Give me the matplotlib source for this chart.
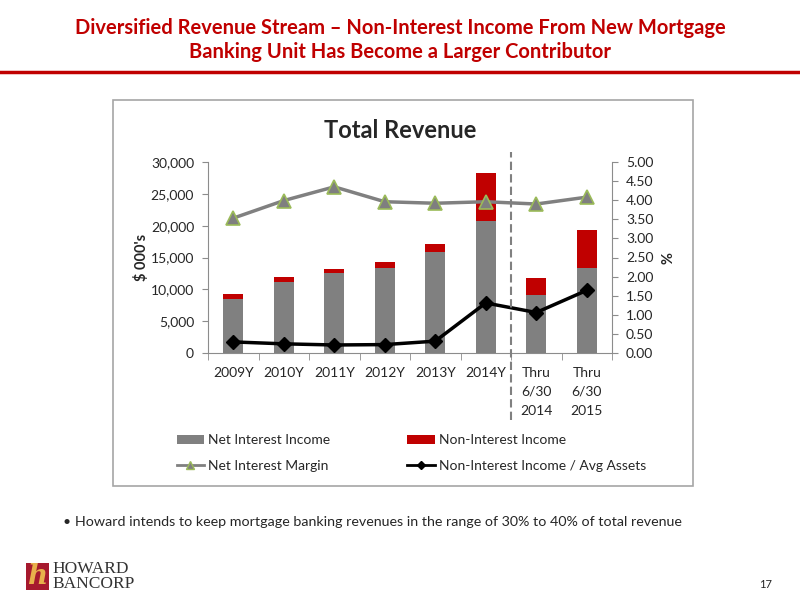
import matplotlib.pyplot as plt
import matplotlib.patches as patches
from matplotlib.lines import Line2D
from matplotlib.ticker import FuncFormatter, FixedLocator

plt.rcParams['font.family'] = ['Lato', 'DejaVu Sans']

# data ($000's and %)
periods = ["2009Y", "2010Y", "2011Y", "2012Y", "2013Y", "2014Y", "Thru\n6/30\n2014", "Thru\n6/30\n2015"]
net_interest_income = [8500, 11200, 12500, 13400, 15800, 20800, 9100, 13400]
non_interest_income = [800, 800, 700, 900, 1300, 7400, 2700, 5900]
net_interest_margin = [3.53, 3.99, 4.35, 3.96, 3.92, 3.96, 3.90, 4.08]
nii_avg_assets = [0.29, 0.24, 0.21, 0.22, 0.31, 1.31, 1.06, 1.64]

red = "#C00000"
gray = "#808080"
axis_gray = "#8C8C8C"
text_col = "#262626"

fig = plt.figure(figsize=(8, 6), dpi=100)

# slide title
fig.text(0.5, 1 - 28 / 600, "Diversified Revenue Stream \u2013 Non-Interest Income From New Mortgage",
         ha="center", va="center", color=red, fontsize=14.5, fontweight="bold")
fig.text(0.5, 1 - 52 / 600, "Banking Unit Has Become a Larger Contributor",
         ha="center", va="center", color=red, fontsize=14.5, fontweight="bold")
fig.add_artist(Line2D([0, 1], [1 - 72 / 600, 1 - 72 / 600], color=red, lw=2.5))

# chart frame
fig.add_artist(patches.Rectangle((113 / 800, 1 - 486 / 600), (693 - 113) / 800, (486 - 100) / 600,
                                 fill=False, edgecolor="#A6A6A6", lw=1.2))
fig.text(400 / 800, 1 - 130 / 600, "Total Revenue", ha="center", va="center",
         fontsize=17, fontweight="bold", color=text_col)

ax = fig.add_axes([208 / 800, 1 - 353 / 600, (612 - 208) / 800, (353 - 162) / 600])
x = range(len(periods))
b1 = ax.bar(x, net_interest_income, width=0.4, color=gray, label="Net Interest Income")
b2 = ax.bar(x, non_interest_income, width=0.4, bottom=net_interest_income, color=red,
            label="Non-Interest Income")
ax.set_xlim(-0.5, len(periods) - 0.5)
ax.set_ylim(0, 30000)
ax.set_yticks(range(0, 30001, 5000))
ax.yaxis.set_major_formatter(FuncFormatter(lambda v, p: f"{v:,.0f}"))
ax.set_xticks(list(x))
ax.set_xticklabels(periods, va="top", linespacing=1.7)
ax.xaxis.set_minor_locator(FixedLocator([i - 0.5 for i in range(len(periods) + 1)]))
ax.tick_params(axis="x", which="major", length=0, pad=10, labelsize=10, colors=text_col)
ax.tick_params(axis="x", which="minor", length=5, color=axis_gray)
ax.tick_params(axis="y", length=4, color=axis_gray, labelsize=10, labelcolor=text_col, pad=6)
ax.set_ylabel("$ 000's", fontweight="bold", fontsize=10.5, color=text_col, labelpad=1)
for s in ["top", "right"]:
    ax.spines[s].set_visible(False)
for s in ["left", "bottom"]:
    ax.spines[s].set_color(axis_gray)

ax2 = ax.twinx()
ax2.plot(x, net_interest_margin, color=gray, lw=2.5, marker="^", markersize=10,
         markerfacecolor="#7F7F7F", markeredgecolor="#9BBB59", markeredgewidth=1.2)
ax2.plot(x, nii_avg_assets, color="black", lw=2.5, marker="D", markersize=7)
ax2.set_ylim(0, 5)
ax2.set_yticks([i * 0.5 for i in range(11)])
ax2.yaxis.set_major_formatter(FuncFormatter(lambda v, p: f"{v:.2f}"))
ax2.tick_params(axis="y", length=4, color=axis_gray, labelsize=10, labelcolor=text_col, pad=6)
ax2.set_ylabel("%", fontweight="bold", fontsize=10.5, color=text_col, rotation=90, labelpad=6)
for s in ["top", "left", "bottom"]:
    ax2.spines[s].set_visible(False)
ax2.spines["right"].set_color(axis_gray)

# separator between full years and year-to-date
ax2.axvline(5.5, ymin=-0.35, ymax=1.05, color=gray, lw=1.5, ls=(0, (4, 2)), clip_on=False)

# legend handles with smaller markers, as in the original
h_nim = Line2D([], [], color=gray, lw=2, marker="^", markersize=6,
               markerfacecolor="#7F7F7F", markeredgecolor="#9BBB59")
h_ratio = Line2D([], [], color="black", lw=2, marker="D", markersize=4.5)
fig.legend([b1, h_nim, b2, h_ratio],
           ["Net Interest Income", "Net Interest Margin", "Non-Interest Income",
            "Non-Interest Income / Avg Assets"],
           ncol=2, loc="center left", bbox_to_anchor=(164 / 800, 1 - 453 / 600),
           frameon=False, fontsize=10, handlelength=2.0, handleheight=0.6, handletextpad=0.3,
           columnspacing=5.5, labelspacing=0.95, labelcolor=text_col)

# bullet
fig.text(62 / 800, 1 - 522 / 600, "\u2022", ha="left", va="center", fontsize=10, color=text_col)
fig.text(75 / 800, 1 - 522 / 600,
         "Howard intends to keep mortgage banking revenues in the range of 30% to 40% of total revenue",
         ha="left", va="center", fontsize=10.3, color=text_col)

# logo
fig.add_artist(patches.Rectangle((26 / 800, 1 - 590 / 600), 23 / 800, 27 / 600,
                                 color="#A6192E", lw=0))
fig.text(37.5 / 800, 1 - 577 / 600, "h", ha="center", va="center", fontsize=20,
         color="#E8B04B", fontweight="bold", family="DejaVu Serif", style="italic")
fig.text(52 / 800, 1 - 569 / 600, "HOWARD", ha="left", va="center", fontsize=12.5,
         family="Liberation Serif", color="#333333")
fig.text(52 / 800, 1 - 584 / 600, "BANCORP", ha="left", va="center", fontsize=12.5,
         family="Liberation Serif", color="#333333")

fig.text(766 / 800, 1 - 584 / 600, "17", ha="center", va="center", fontsize=8, color=text_col)

fig.savefig("out.png", dpi=100)
